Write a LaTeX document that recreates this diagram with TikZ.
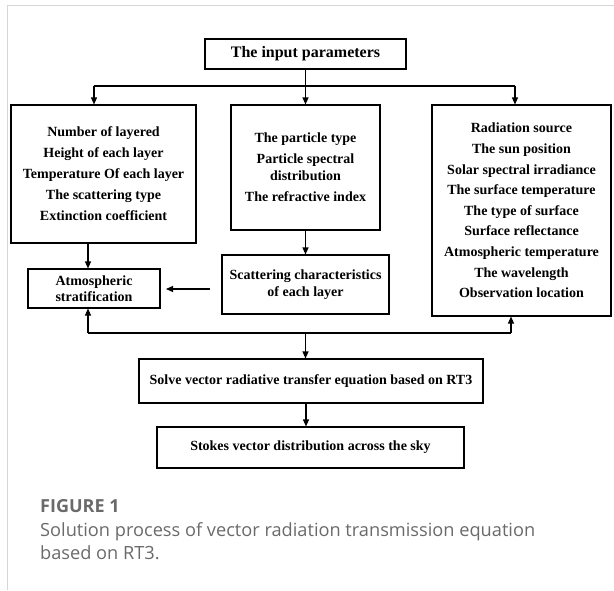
\documentclass[tikz,border=0pt]{standalone}
\usepackage{fontspec}
\setmainfont{Liberation Serif}
\newfontfamily\capfont{Open Sans}
\usetikzlibrary{arrows.meta}
\definecolor{framegray}{HTML}{D6D6D6}
\definecolor{capgray}{HTML}{6A6A6A}
\begin{document}
\begin{tikzpicture}[x=1pt,y=-1pt,
  box/.style={draw=black,line width=1.1pt,inner sep=0pt,align=center,
    font=\bfseries\fontsize{14}{21}\selectfont},
  arr/.style={line width=1.1pt,-{Triangle[length=7pt,width=6pt]}},
  ln/.style={line width=1.1pt},
  captext/.style={anchor=base west,inner sep=0pt,text=capgray,font=\capfont\fontsize{18.2}{23}\selectfont}]
\useasboundingbox (0,0) rectangle (614,590);
\draw[framegray,line width=1pt] (7,590) -- (7,5) -- (614,5);

% boxes
\node[box,minimum width=201pt,minimum height=30pt,font=\bfseries\fontsize{16}{19}\selectfont]
  (in) at (305.5,54) {The input parameters};
\node[box,minimum width=185pt,minimum height=138pt] (lb) at (103.5,174)
  {Number of layered\\Height of each layer\\Temperature Of each layer\\The scattering type\\Extinction coefficient};
\node[box,minimum width=149pt,minimum height=125pt] (mb) at (305.5,167.5)
  {The particle type\\Particle spectral\\[-4pt]distribution\\The refractive index};
\node[box,minimum width=179pt,minimum height=211pt,font=\bfseries\fontsize{14}{20.6}\selectfont] (rb) at (521.5,210.5)
  {Radiation source\\The sun position\\Solar spectral irradiance\\The surface temperature\\The type of surface\\Surface reflectance\\Atmospheric temperature\\The wavelength\\Observation location};
\node[box,minimum width=132pt,minimum height=39pt,font=\bfseries\fontsize{14}{16.5}\selectfont] (atm) at (94,288.5)
  {Atmospheric\\stratification};
\node[box,minimum width=167pt,minimum height=59pt,font=\bfseries\fontsize{14}{17}\selectfont] (sc) at (305.5,284.5)
  {Scattering characteristics\\of each layer};
\node[box,minimum width=344pt,minimum height=44pt] (sv) at (311,381)
  {Solve vector radiative transfer equation based on RT3};
\node[box,minimum width=307pt,minimum height=41pt] (st) at (310.5,447.5)
  {Stokes vector distribution across the sky};

% connectors
\coordinate (tl) at (94,86);
\coordinate (tm) at (305.5,86);
\coordinate (tr) at (515,86);
\draw[ln] (in.south) -- (tm);
\draw[ln] (tl) -- (tr);
\draw[arr] (tl) -- (tl |- lb.north);
\draw[arr] (tm) -- (mb.north);
\draw[arr] (tr) -- (tr |- rb.north);

\coordinate (la) at (88,243);
\draw[arr] (la) -- (la |- atm.north);
\draw[arr] (mb.south) -- (sc.north);
\coordinate (sa) at (210,289);
\coordinate (sb) at (166,289);
\draw[arr] (sa) -- (sb);

\coordinate (bl) at (88,333);
\coordinate (bm) at (305.5,333);
\coordinate (br) at (511,333);
\draw[ln] (bl) -- (br);
\draw[arr] (bl) -- (bl |- atm.south);
\draw[arr] (br) -- (br |- rb.south);
\draw[arr] (bm) -- (bm |- sv.north);
\coordinate (sd) at (306,403);
\draw[arr] (sd) -- (sd |- st.north);

% caption
\node[anchor=base west,inner sep=0pt,text=capgray,font=\capfont\bfseries\fontsize{18}{20}\selectfont]
  (fig) at (40,512) {FIGURE 1};
\node[captext] (cap1) at (40,536) {Solution process of vector radiation transmission equation};
\node[captext] (cap2) at (40,559) {based on RT3.};
\end{tikzpicture}
\end{document}
